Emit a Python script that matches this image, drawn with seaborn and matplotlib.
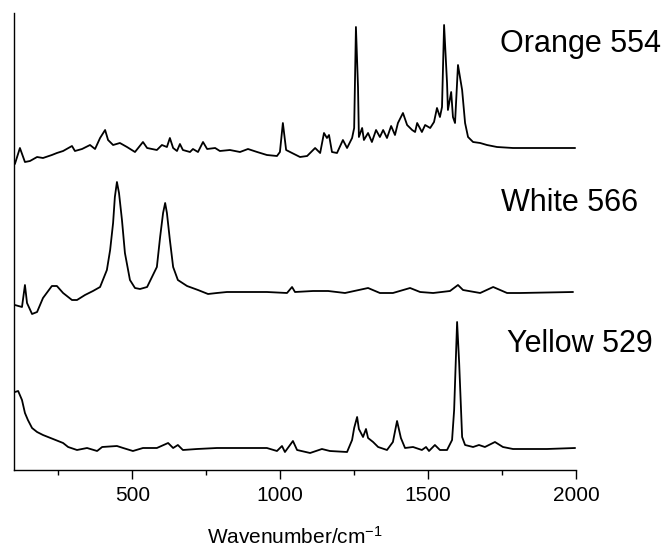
import matplotlib.pyplot as plt
import numpy as np
import seaborn as sns
from matplotlib.ticker import MultipleLocator

# Raman spectra (wavenumber in cm-1, intensity in arbitrary units)
orange_wn = [103, 120, 137, 154, 178, 198, 228, 245, 266, 296, 306, 330, 357, 374, 391, 408, 418, 435,
             458, 482, 509, 536, 550, 583, 600, 617, 627, 638, 651, 661, 671, 695, 705, 722, 739, 753,
             780, 796, 830, 864, 891, 922, 955, 989, 999, 1009, 1020, 1040, 1067, 1091, 1118, 1135,
             1148, 1158, 1165, 1175, 1192, 1212, 1226, 1243, 1250, 1256, 1263, 1266, 1277, 1283, 1297,
             1310, 1324, 1337, 1348, 1361, 1375, 1388, 1398, 1415, 1429, 1446, 1456, 1463, 1479, 1490,
             1507, 1520, 1530, 1540, 1547, 1554, 1564, 1567, 1578, 1584, 1591, 1601, 1615, 1625, 1635,
             1652, 1676, 1699, 1733, 1787, 1902, 1997]
orange_int = [6, 22, 8, 9, 13, 12, 15, 17, 19, 24, 19, 21, 25, 21, 32, 40, 30, 25,
              27, 23, 18, 28, 22, 20, 25, 23, 32, 22, 19, 26, 20, 18, 21, 18, 28, 21,
              22, 19, 20, 18, 21, 18, 15, 14, 18, 47, 20, 17, 13, 14, 22, 17,
              37, 32, 35, 18, 17, 30, 22, 32, 42, 143, 83, 33, 42, 30, 37,
              28, 40, 33, 40, 32, 44, 35, 47, 57, 45, 40, 38, 47, 38, 45,
              42, 48, 62, 53, 63, 145, 87, 60, 78, 53, 47, 105, 80, 47, 33,
              28, 27, 25, 23, 22, 22, 22]

white_wn = [103, 127, 137, 144, 161, 178, 198, 228, 245, 266, 296, 313, 340, 367, 391, 414, 425, 435,
            441, 448, 455, 465, 475, 492, 509, 526, 550, 583, 594, 604, 611, 617, 627, 638, 654, 685,
            722, 756, 786, 820, 955, 1023, 1040, 1050, 1111, 1162, 1219, 1297, 1337, 1381, 1439,
            1473, 1517, 1574, 1601, 1618, 1676, 1720, 1767, 1811, 1990]
white_int = [5, 3, 25, 7, -4, -2, 12, 24, 24, 17, 10, 10, 15, 19, 23, 40, 60, 87,
             113, 128, 117, 90, 57, 30, 22, 21, 23, 43, 73, 97, 107, 97, 70, 43, 30, 24,
             20, 16, 17, 18, 18, 17, 23, 18, 19, 19, 17, 22, 17, 17, 22,
             18, 17, 19, 25, 20, 17, 23, 17, 17, 18]

yellow_wn = [103, 114, 127, 137, 147, 161, 178, 198, 232, 266, 283, 313, 347, 381, 398, 448, 469, 502,
             536, 583, 621, 638, 654, 671, 719, 786, 874, 955, 989, 1006, 1016, 1043, 1057, 1101,
             1141, 1168, 1226, 1243, 1250, 1260, 1266, 1280, 1290, 1297, 1314, 1331, 1361, 1381,
             1395, 1408, 1422, 1449, 1479, 1493, 1503, 1523, 1540, 1564, 1581, 1588, 1598, 1605,
             1615, 1625, 1652, 1672, 1692, 1726, 1753, 1787, 1902, 1997]
yellow_int = [78, 79, 70, 57, 50, 42, 38, 35, 31, 27, 23, 20, 22, 19, 23, 24, 22, 19,
              22, 22, 27, 22, 25, 20, 21, 22, 22, 22, 19, 24, 18, 29, 20, 17,
              21, 19, 18, 30, 42, 53, 41, 33, 41, 32, 28, 23, 20, 28,
              49, 32, 22, 23, 20, 23, 19, 25, 20, 20, 30, 60, 148, 107,
              33, 25, 23, 25, 23, 28, 23, 21, 21, 22]

names = ['Yellow 529', 'White 566', 'Orange 554']
offsets = [0, 160, 300]
label_x = [1767, 1747, 1743]
label_y = [118, 259, 418]

sns.set_style('ticks')
plt.rcParams['font.family'] = ['Liberation Sans', 'DejaVu Sans']
plt.rcParams['mathtext.fontset'] = 'custom'
plt.rcParams['mathtext.rm'] = 'Liberation Sans'
plt.rcParams['mathtext.it'] = 'Liberation Sans:italic'
plt.rcParams['text.color'] = 'black'
plt.rcParams['axes.labelcolor'] = 'black'
plt.rcParams['xtick.color'] = 'black'

fig = plt.figure(figsize=(6.67, 5.52), dpi=100)
ax = fig.add_axes([14 / 667, 1 - 470 / 552, (576 - 14) / 667, (470 - 13) / 552])

spectra = [(yellow_wn, yellow_int), (white_wn, white_int), (orange_wn, orange_int)]
for (wn, inten), off in zip(spectra, offsets):
    sns.lineplot(x=wn, y=np.array(inten) + off, color='black', lw=1.3,
                 estimator=None, sort=False, ax=ax)

for name, tx, ty in zip(names, label_x, label_y):
    ax.text(tx, ty, name, fontsize=22, ha='left', va='baseline', color='black', clip_on=False)

ax.set_xlim(100, 2000)
ax.set_ylim(0, 457)
ax.set_yticks([])
ax.xaxis.set_major_locator(MultipleLocator(500))
ax.xaxis.set_minor_locator(MultipleLocator(250))
ax.tick_params(axis='x', which='major', length=6.5, width=1.0, direction='out',
               labelsize=15, pad=5, color='black', labelcolor='black')
ax.tick_params(axis='x', which='minor', length=3.6, width=1.0, direction='out', color='black')
for s in ['top', 'right']:
    ax.spines[s].set_visible(False)
for s in ['left', 'bottom']:
    ax.spines[s].set_color('black')
    ax.spines[s].set_linewidth(1.0)

ax.set_xlabel('Wavenumber/cm$^{-1}$', fontsize=15, labelpad=15, color='black')
ax.set_ylabel('')

fig.savefig('out.png', dpi=100)
